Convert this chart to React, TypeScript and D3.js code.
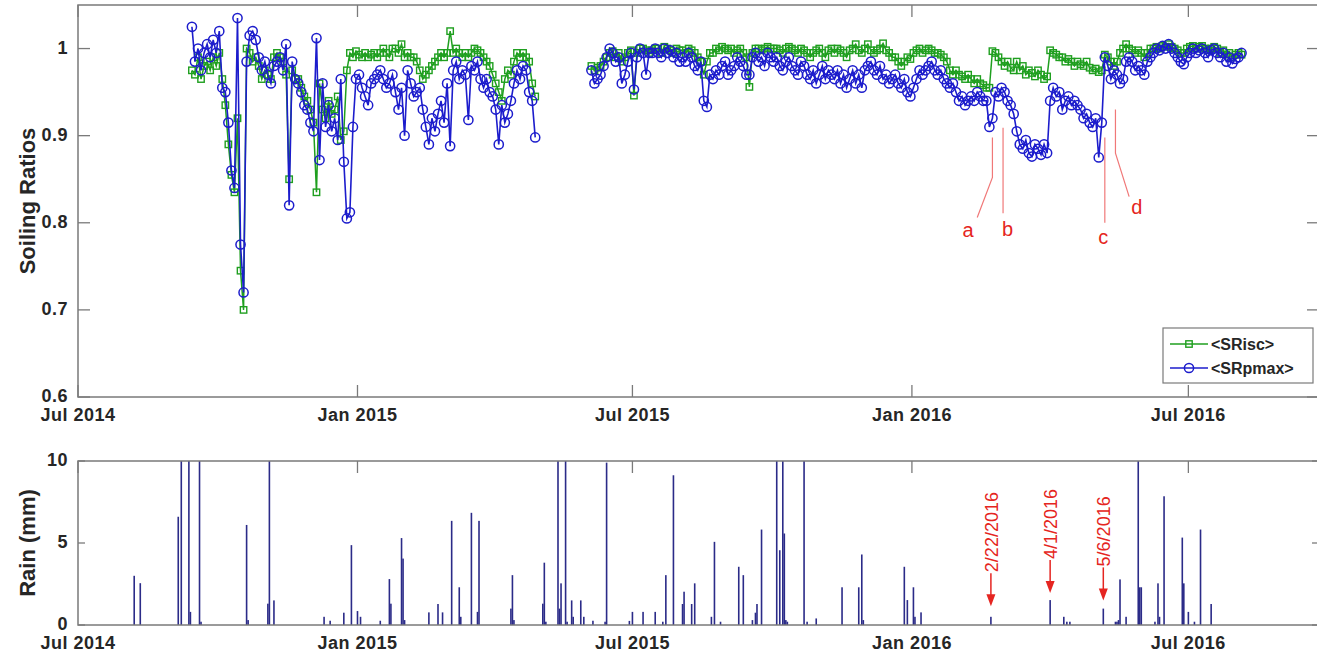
import React from "react";
import * as d3 from "d3";

// two measurement campaigns, one value every 2 days
const stepDays = 2;
const startA = "2014-09-14";
const startB = "2015-06-04";

const srIscA = [
  0.975, 0.97, 0.99, 0.965, 0.98, 0.985, 0.975, 0.99, 0.98, 0.995,
  0.965, 0.935, 0.89, 0.855, 0.835, 0.92, 0.745, 0.7, 1.0, 0.995,
  0.985, 0.99, 0.98, 0.965, 0.975, 0.97, 0.965, 0.99, 0.995, 0.99,
  0.985, 0.97, 0.85, 0.975, 0.965, 0.965, 0.955, 0.945, 0.94, 0.93,
  0.915, 0.835, 0.96, 0.93, 0.92, 0.94, 0.925, 0.93, 0.945, 0.895,
  0.905, 0.975, 0.995, 0.99, 0.997, 0.993, 0.99, 0.995, 0.99, 0.993,
  0.995, 0.99, 0.995, 1.0, 0.995, 0.99, 1.0, 1.0, 0.995, 1.005,
  0.99, 0.995, 0.99, 0.99, 0.985, 0.975, 0.965, 0.97, 0.975, 0.98,
  0.985, 0.99, 0.995, 0.99, 0.995, 1.02, 0.995, 1.0, 0.995, 0.99,
  0.995, 0.99, 0.995, 1.0, 0.998, 0.995, 0.99, 0.985, 0.98, 0.97,
  0.96, 0.95, 0.94, 0.965, 0.975, 0.97, 0.985, 0.995, 0.99, 0.995,
  0.99, 0.985, 0.96, 0.945,
];

const srPmaxA = [
  1.025, 0.985, 1.0, 0.975, 0.995, 1.005, 0.99, 1.01, 0.995, 1.02,
  0.955, 0.95, 0.915, 0.86, 0.84, 1.035, 0.775, 0.72, 0.985, 1.015,
  1.02, 1.01, 0.99, 0.975, 0.985, 0.97, 0.96, 0.98, 0.985, 0.99,
  0.975, 1.005, 0.82, 0.985, 0.965, 0.96, 0.95, 0.935, 0.93, 0.915,
  0.905, 1.012, 0.872, 0.96, 0.91, 0.935, 0.905, 0.92, 0.895, 0.965,
  0.87, 0.805, 0.812, 0.91, 0.965, 0.97, 0.955, 0.945, 0.935, 0.96,
  0.965, 0.97, 0.975, 0.965, 0.955, 0.96, 0.97, 0.95, 0.93, 0.955,
  0.9, 0.975, 0.96, 0.945, 0.95, 0.955, 0.93, 0.91, 0.89, 0.92,
  0.905, 0.925, 0.94, 0.915, 0.96, 0.888, 0.975, 0.985, 0.965, 0.975,
  0.97, 0.918, 0.98, 0.975, 0.985, 0.965, 0.955, 0.965, 0.95, 0.945,
  0.93, 0.89, 0.935, 0.915, 0.925, 0.94, 0.96, 0.975, 0.965, 0.98,
  0.975, 0.95, 0.94, 0.898,
];

const srIscB = [
  0.98, 0.975, 0.978, 0.98, 0.985, 0.99, 0.995, 0.997, 0.99, 0.995,
  0.985, 0.99, 0.995, 0.998, 0.946, 0.995, 1.0, 1.0, 0.998, 0.995,
  0.998, 1.0, 1.0, 0.995, 1.002, 1.0, 0.998, 0.995, 1.0, 0.998,
  0.998, 0.995, 1.0, 0.998, 0.995, 0.99, 0.985, 0.97, 0.985, 0.995,
  0.995, 1.0, 0.998, 1.002, 1.0, 0.998, 1.0, 0.995, 0.998, 1.0,
  0.995, 0.99, 0.956, 0.995, 1.0, 1.0, 0.998, 1.0, 1.002, 1.0,
  1.0, 1.0, 0.998, 0.995, 1.0, 1.002, 1.0, 0.998, 0.995, 1.0,
  0.998, 0.995, 0.99, 0.995, 0.998, 1.0, 0.995, 0.99, 0.998, 1.0,
  0.995, 1.0, 0.998, 0.995, 0.99, 0.998, 1.0, 1.005, 0.998, 0.995,
  1.0, 1.005, 0.998, 0.995, 0.998, 1.0, 1.006, 0.998, 0.995, 0.99,
  0.99, 0.985, 0.98, 0.985, 0.99, 0.988, 0.995, 0.998, 1.0, 0.995,
  0.998, 1.0, 0.998, 0.995, 0.995, 0.993, 0.99, 0.985, 0.975, 0.97,
  0.975, 0.97, 0.968, 0.965, 0.97, 0.965, 0.96, 0.965, 0.96, 0.958,
  0.955, 0.955, 0.997, 0.995, 0.99, 0.985, 0.98, 0.985, 0.978, 0.975,
  0.985, 0.975, 0.98, 0.97, 0.975, 0.972, 0.968, 0.975, 0.97, 0.965,
  0.968, 0.998, 0.995, 0.993, 0.99, 0.99, 0.985, 0.988, 0.985, 0.98,
  0.985, 0.982, 0.98, 0.985, 0.978, 0.975, 0.977, 0.973, 0.975, 0.993,
  0.99, 0.985, 0.98, 0.985, 0.995, 1.0, 1.005, 1.0, 0.998, 0.995,
  0.998, 0.995, 0.99, 0.995, 1.0, 1.0, 1.002, 1.0, 1.003, 1.002,
  1.005, 1.002, 1.0, 0.998, 0.995, 0.995, 1.0, 1.002, 1.003, 1.0,
  1.002, 1.003, 1.0, 0.998, 1.0, 1.002, 1.0, 0.995, 0.998, 0.993,
  0.995, 0.99, 0.993, 0.995, 0.993,
];

const srPmaxB = [
  0.975, 0.96, 0.965, 0.97, 0.98, 0.99, 1.0, 0.995, 0.985, 0.99,
  0.96, 0.97, 0.985, 0.995, 0.953, 0.99, 1.0, 0.995, 0.97, 0.995,
  0.995, 1.0, 0.995, 0.99, 1.0, 0.995, 0.998, 0.99, 0.995, 0.985,
  0.99, 0.985, 0.995, 0.99, 0.98, 0.975, 0.985, 0.94, 0.933, 0.97,
  0.965, 0.975, 0.97, 0.98, 0.985, 0.97, 0.975, 0.98, 0.99, 0.985,
  0.98, 0.97, 0.97, 0.99, 0.995, 0.985, 0.99, 0.98, 0.995, 0.99,
  0.985, 0.99, 0.98, 0.975, 0.985, 0.99, 0.98, 0.975, 0.97, 0.985,
  0.98, 0.97, 0.965, 0.975, 0.96, 0.97, 0.98, 0.965, 0.975, 0.97,
  0.965, 0.975, 0.96, 0.97, 0.955, 0.965, 0.975, 0.96, 0.97, 0.955,
  0.975, 0.98, 0.985, 0.975, 0.97, 0.98, 0.965, 0.97, 0.96, 0.965,
  0.97, 0.96, 0.955, 0.965, 0.95, 0.945, 0.955, 0.965, 0.975, 0.97,
  0.975, 0.98, 0.985, 0.975, 0.97, 0.975, 0.965, 0.96, 0.955, 0.96,
  0.95, 0.94, 0.945, 0.935, 0.94, 0.945, 0.94, 0.95, 0.945, 0.94,
  0.94, 0.91, 0.92, 0.95, 0.945, 0.955, 0.95, 0.94, 0.935, 0.925,
  0.905, 0.89, 0.885, 0.895, 0.88, 0.876, 0.89, 0.885, 0.878, 0.89,
  0.88, 0.94, 0.955, 0.945, 0.95, 0.93, 0.94, 0.945, 0.935, 0.94,
  0.935, 0.93, 0.92, 0.925, 0.915, 0.91, 0.92, 0.875, 0.915, 0.99,
  0.98, 0.965, 0.975, 0.97, 0.96, 0.965, 0.985, 0.99, 0.985, 0.975,
  0.98, 0.975, 0.97, 0.985, 0.99, 0.995, 1.0, 0.998, 1.003, 1.0,
  1.005, 1.0, 0.995, 0.99, 0.985, 0.982, 0.99, 0.995, 1.0, 0.995,
  0.998, 1.0, 0.995, 0.99, 0.998, 1.0, 0.995, 0.99, 0.995, 0.985,
  0.99, 0.983, 0.988, 0.99, 0.995,
];

const rainDates = [
  "2014-08-07", "2014-08-11", "2014-09-05", "2014-09-07", "2014-09-12", "2014-09-13",
  "2014-09-19", "2014-09-20", "2014-10-20", "2014-10-21", "2014-11-03", "2014-11-04",
  "2014-11-07", "2014-12-10", "2014-12-14", "2014-12-23", "2014-12-28", "2015-01-01",
  "2015-01-03", "2015-01-16", "2015-01-22", "2015-01-23", "2015-01-30", "2015-01-31",
  "2015-02-01", "2015-02-17", "2015-02-23", "2015-02-26", "2015-03-04", "2015-03-09",
  "2015-03-10", "2015-03-17", "2015-03-21", "2015-03-22", "2015-04-12", "2015-04-13",
  "2015-04-14", "2015-05-03", "2015-05-04", "2015-05-05", "2015-05-13", "2015-05-14",
  "2015-05-15", "2015-05-18", "2015-05-19", "2015-05-22", "2015-05-23", "2015-05-28",
  "2015-05-30", "2015-06-05", "2015-06-13", "2015-06-14", "2015-06-29", "2015-07-01",
  "2015-07-08", "2015-07-16", "2015-07-21", "2015-07-23", "2015-07-28", "2015-08-03",
  "2015-08-04", "2015-08-09", "2015-08-11", "2015-08-22", "2015-08-24", "2015-08-28",
  "2015-09-09", "2015-09-12", "2015-09-18", "2015-09-20", "2015-09-21", "2015-09-24",
  "2015-10-04", "2015-10-06", "2015-10-08", "2015-10-09", "2015-10-10", "2015-10-11",
  "2015-10-22", "2015-10-24", "2015-10-30", "2015-11-16", "2015-11-27", "2015-11-29",
  "2015-11-30", "2015-12-27", "2015-12-29", "2016-01-02", "2016-01-03", "2016-01-07",
  "2016-02-22", "2016-04-01", "2016-04-10", "2016-04-12", "2016-04-14", "2016-05-06",
  "2016-05-14", "2016-05-15", "2016-05-16", "2016-05-17", "2016-05-21", "2016-05-29",
  "2016-05-30", "2016-05-31", "2016-06-09", "2016-06-11", "2016-06-12", "2016-06-15",
  "2016-06-27", "2016-06-28", "2016-07-01", "2016-07-05", "2016-07-09", "2016-07-16",
];

const rainMm = [
  3.0, 2.55, 6.6, 14, 12, 0.8,
  12, 0.2, 6.1, 0.3, 1.3, 11,
  1.5, 0.5, 0.26, 0.75, 4.87, 0.85,
  0.5, 0.26, 2.8, 1.3, 5.3, 4.05,
  0.3, 0.77, 1.28, 0.77, 6.35, 2.3,
  0.5, 6.84, 0.8, 6.35, 1.0, 3.04,
  0.3, 1.3, 3.8, 0.2, 14, 1.0,
  2.54, 12, 0.2, 1.5, 0.5, 1.5,
  0.5, 0.26, 0.2, 9.9, 0.25, 0.8,
  0.8, 0.8, 0.2, 3.04, 9.13, 1.28,
  2.03, 1.28, 2.54, 0.5, 5.07, 0.2,
  3.55, 3.04, 0.3, 0.75, 1.28, 5.82,
  14, 4.56, 12, 5.58, 0.3, 0.2,
  11, 0.2, 0.4, 2.3, 2.3, 4.3,
  0.3, 3.55, 1.52, 2.3, 0.5, 0.77,
  0.5, 1.52, 0.5, 0.2, 0.2, 1.0,
  0.2, 0.2, 0.3, 2.78, 0.5, 12,
  2.3, 2.3, 0.2, 2.54, 0.5, 7.85,
  5.33, 2.54, 0.8, 0.2, 5.82, 1.28,
];

const xTickDates = ["2014-07-01", "2015-01-01", "2015-07-01", "2016-01-01", "2016-07-01"];
const xTickLabels = ["Jul 2014", "Jan 2015", "Jul 2015", "Jan 2016", "Jul 2016"];
const srTicks = [0.6, 0.7, 0.8, 0.9, 1];
const srTickLabels = ["0.6", "0.7", "0.8", "0.9", "1"];
const rainTicks = [0, 5, 10];

// red markers on the soiling panel: a..d
const markLetters = ["a", "b", "c", "d"];
const markLabelDates = ["2016-02-07", "2016-03-04", "2016-05-06", "2016-05-28"];
const markLabelVals = [0.784, 0.785, 0.776, 0.81];
const markLines: [string, number][][] = [
  [["2016-02-23", 0.898], ["2016-02-23", 0.852], ["2016-02-13", 0.806]],
  [["2016-03-01", 0.909], ["2016-03-01", 0.811]],
  [["2016-05-07", 0.898], ["2016-05-07", 0.8]],
  [["2016-05-14", 0.93], ["2016-05-14", 0.88], ["2016-05-23", 0.83]],
];

// rain events with arrows
const eventDates = ["2016-02-22", "2016-04-01", "2016-05-06"];
const eventLabels = ["2/22/2016", "4/1/2016", "5/6/2016"];
const eventTipMm = [1.15, 1.95, 1.5];

const W = 1317;
const H = 658;
const FONT = "'Liberation Sans', Arial, Helvetica, sans-serif";
const GREEN = "#1f9f1f";
const BLUE = "#1c1ccc";
const RED = "#e52521";
const AXIS = "#7a7a7a";
const TEXT = "#262626";

const parse = d3.timeParse("%Y-%m-%d");

function makeSeries(start: string, vals: number[]) {
  const s = parse(start) as Date;
  return vals.map((v, i) => ({ date: d3.timeDay.offset(s, i * stepDays), v }));
}

export default function App() {
  const left = 78;
  const right = 1319;
  const top1 = 5;
  const bot1 = 397;
  const top2 = 461;
  const bot2 = 625;

  const x = d3
    .scaleTime()
    .domain([parse("2014-07-01") as Date, parse("2016-09-25") as Date])
    .range([left, right]);
  const ySr = d3.scaleLinear().domain([0.6, 1.05]).range([bot1, top1]);
  const yRain = d3.scaleLinear().domain([0, 10]).range([bot2, top2]);

  const iscSegs = [makeSeries(startA, srIscA), makeSeries(startB, srIscB)];
  const pmaxSegs = [makeSeries(startA, srPmaxA), makeSeries(startB, srPmaxB)];

  const line = d3
    .line<{ date: Date; v: number }>()
    .x((d) => x(d.date))
    .y((d) => ySr(d.v));

  const rain = rainDates.map((d, i) => ({ date: parse(d) as Date, v: rainMm[i] }));
  const tickDates = xTickDates.map((d) => parse(d) as Date);

  const tickLen = 12;
  const legendRight = right - 6;
  const legendBottom = bot1 - 14;
  const legW = 150;
  const legH = 55;
  const legX = legendRight - legW;
  const legY = legendBottom - legH;

  const labelStyle = {
    fontFamily: FONT,
    fontWeight: 700,
    fontSize: 18,
    letterSpacing: 0.5,
    fill: TEXT,
  } as const;

  return (
    <svg
      width={W}
      height={H}
      style={{ position: "absolute", left: 0, top: 0, background: "#fff" }}
    >
      <rect x={0} y={0} width={W} height={H} fill="#fff" />

      <defs>
        <clipPath id="clipTop">
          <rect x={left} y={top1} width={right - left} height={bot1 - top1} />
        </clipPath>
        <clipPath id="clipBot">
          <rect x={left} y={top2} width={right - left} height={bot2 - top2} />
        </clipPath>
      </defs>

      {/* ---------- top panel ---------- */}
      <g clipPath="url(#clipTop)">
        {iscSegs.map((seg, k) => (
          <g key={"isc" + k}>
            <path d={line(seg) || ""} fill="none" stroke={GREEN} strokeWidth={1.5} />
            {seg.map((d, i) => (
              <rect
                key={i}
                x={x(d.date) - 3.2}
                y={ySr(d.v) - 3.2}
                width={6.4}
                height={6.4}
                fill="none"
                stroke={GREEN}
                strokeWidth={1.4}
              />
            ))}
          </g>
        ))}
        {pmaxSegs.map((seg, k) => (
          <g key={"pmax" + k}>
            <path d={line(seg) || ""} fill="none" stroke={BLUE} strokeWidth={1.6} />
            {seg.map((d, i) => (
              <circle
                key={i}
                cx={x(d.date)}
                cy={ySr(d.v)}
                r={4.6}
                fill="none"
                stroke={BLUE}
                strokeWidth={1.5}
              />
            ))}
          </g>
        ))}
      </g>

      {/* a..d annotations */}
      {markLines.map((pts, k) => (
        <polyline
          key={"ml" + k}
          points={pts.map(([d, v]) => `${x(parse(d) as Date)},${ySr(v)}`).join(" ")}
          fill="none"
          stroke="#f07878"
          strokeWidth={1.2}
        />
      ))}
      {markLetters.map((t, k) => (
        <text
          key={"mt" + k}
          x={x(parse(markLabelDates[k]) as Date)}
          y={ySr(markLabelVals[k])}
          textAnchor="middle"
          fontFamily={FONT}
          fontSize={20}
          fill={RED}
        >
          {t}
        </text>
      ))}

      {/* axes box + ticks, top */}
      <rect
        x={left}
        y={top1}
        width={right - left}
        height={bot1 - top1}
        fill="none"
        stroke={AXIS}
        strokeWidth={1.5}
      />
      {tickDates.map((d, i) => (
        <g key={"xt1" + i}>
          <line x1={x(d)} x2={x(d)} y1={bot1} y2={bot1 - tickLen} stroke={AXIS} strokeWidth={1.3} />
          <line x1={x(d)} x2={x(d)} y1={top1} y2={top1 + tickLen} stroke={AXIS} strokeWidth={1.3} />
          <text x={x(d)} y={bot1 + 24} textAnchor="middle" {...labelStyle}>
            {xTickLabels[i]}
          </text>
        </g>
      ))}
      {srTicks.map((v, i) => (
        <g key={"yt1" + i}>
          <line x1={left} x2={left + tickLen} y1={ySr(v)} y2={ySr(v)} stroke={AXIS} strokeWidth={1.3} />
          <line x1={right} x2={right - tickLen} y1={ySr(v)} y2={ySr(v)} stroke={AXIS} strokeWidth={1.3} />
          <text x={left - 10} y={ySr(v)} dy="0.3em" textAnchor="end" {...labelStyle}>
            {srTickLabels[i]}
          </text>
        </g>
      ))}
      <text
        transform={`translate(35,${(top1 + bot1) / 2}) rotate(-90)`}
        textAnchor="middle"
        fontFamily={FONT}
        fontWeight={700}
        fontSize={22}
        fill={TEXT}
      >
        Soiling Ratios
      </text>

      {/* legend */}
      <rect x={legX} y={legY} width={legW} height={legH} fill="#fff" stroke={AXIS} strokeWidth={1.2} />
      <line x1={legX + 7} x2={legX + 45} y1={legY + 16} y2={legY + 16} stroke={GREEN} strokeWidth={1.5} />
      <rect x={legX + 22.8} y={legY + 12.8} width={6.4} height={6.4} fill="none" stroke={GREEN} strokeWidth={1.4} />
      <text x={legX + 48} y={legY + 16} dy="0.36em" fontFamily={FONT} fontWeight={700} fontSize={16} fill={TEXT}>
        {"<SRisc>"}
      </text>
      <line x1={legX + 7} x2={legX + 45} y1={legY + 40} y2={legY + 40} stroke={BLUE} strokeWidth={1.6} />
      <circle cx={legX + 26} cy={legY + 40} r={4.6} fill="none" stroke={BLUE} strokeWidth={1.5} />
      <text x={legX + 48} y={legY + 40} dy="0.36em" fontFamily={FONT} fontWeight={700} fontSize={16} fill={TEXT}>
        {"<SRpmax>"}
      </text>

      {/* ---------- bottom panel ---------- */}
      <g clipPath="url(#clipBot)">
        {rain.map((d, i) => (
          <rect
            key={i}
            x={x(d.date) - 0.8}
            y={yRain(Math.min(d.v, 10.5))}
            width={1.6}
            height={bot2 - yRain(Math.min(d.v, 10.5))}
            fill="#2b2b88"
          />
        ))}
      </g>
      <rect
        x={left}
        y={top2}
        width={right - left}
        height={bot2 - top2}
        fill="none"
        stroke={AXIS}
        strokeWidth={1.5}
      />
      {tickDates.map((d, i) => (
        <g key={"xt2" + i}>
          <line x1={x(d)} x2={x(d)} y1={top2} y2={top2 + tickLen} stroke={AXIS} strokeWidth={1.3} />
          <text x={x(d)} y={bot2 + 24} textAnchor="middle" {...labelStyle}>
            {xTickLabels[i]}
          </text>
        </g>
      ))}
      {rainTicks.map((v, i) => (
        <g key={"yt2" + i}>
          <line x1={left} x2={left + 7} y1={yRain(v)} y2={yRain(v)} stroke={AXIS} strokeWidth={1.3} />
          <line x1={right} x2={right - 7} y1={yRain(v)} y2={yRain(v)} stroke={AXIS} strokeWidth={1.3} />
          <text x={left - 10} y={yRain(v)} dy="0.3em" textAnchor="end" {...labelStyle}>
            {v}
          </text>
        </g>
      ))}
      <text
        transform={`translate(35,${(top2 + bot2) / 2}) rotate(-90)`}
        textAnchor="middle"
        fontFamily={FONT}
        fontWeight={700}
        fontSize={22}
        fill={TEXT}
      >
        Rain (mm)
      </text>

      {/* rain event arrows */}
      {eventDates.map((d, i) => {
        const ex = x(parse(d) as Date);
        const tip = yRain(eventTipMm[i]);
        return (
          <g key={"ev" + i}>
            <line x1={ex} x2={ex} y1={tip - 33} y2={tip - 10} stroke={RED} strokeWidth={1.5} />
            <polygon
              points={`${ex - 4.5},${tip - 12} ${ex + 4.5},${tip - 12} ${ex},${tip}`}
              fill={RED}
            />
            <text
              transform={`translate(${ex + 7},${tip - 34}) rotate(-90)`}
              fontFamily={FONT}
              fontSize={18}
              fill={RED}
            >
              {eventLabels[i]}
            </text>
          </g>
        );
      })}
    </svg>
  );
}
